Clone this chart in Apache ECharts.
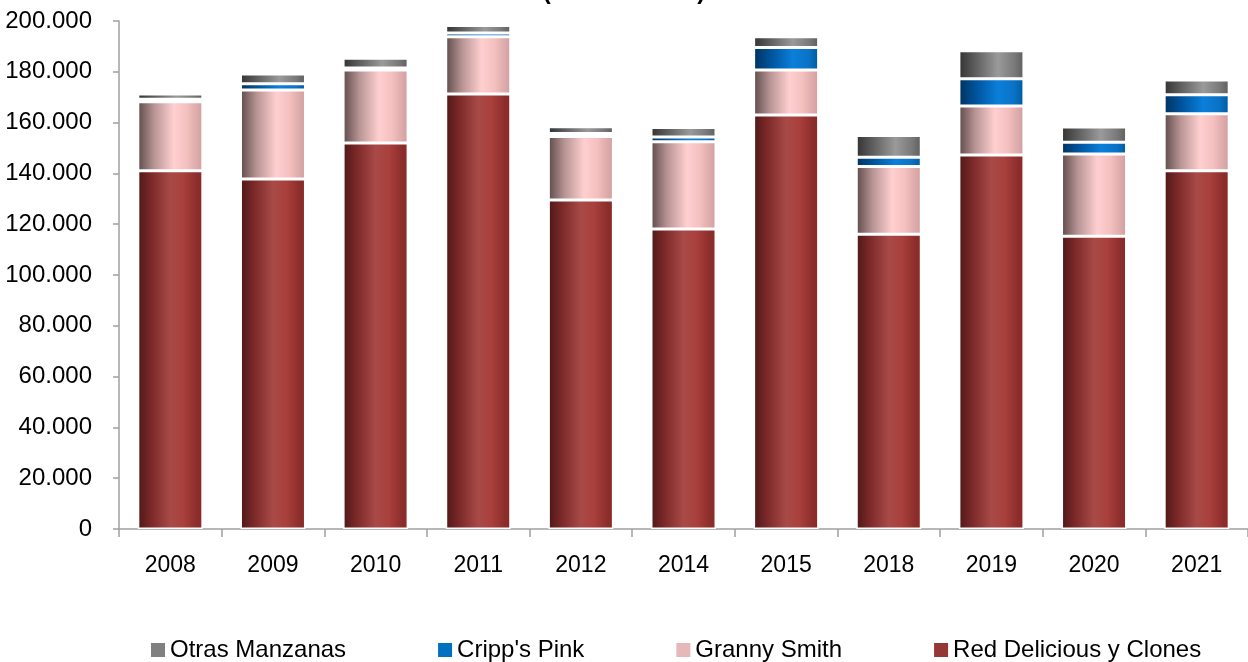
<!DOCTYPE html>
<html>
<head>
<meta charset="utf-8">
<script src="https://cdn.jsdelivr.net/npm/echarts@6/dist/echarts.min.js"></script>
<style>
html,body{margin:0;padding:0;background:#fff;}
#chart{width:1248px;height:662px;}
</style>
</head>
<body>
<div id="chart"></div>
<script>
const years = ['2008','2009','2010','2011','2012','2014','2015','2018','2019','2020','2021'];
const redDelicious = [141000,137800,152000,171300,129500,118100,163000,116000,147200,115300,141000];
const grannySmith = [27200,35000,28700,22500,25000,34400,17700,26700,19300,32300,22500];
const crippsPink = [1000,2500,800,1500,1200,1800,8900,3700,10800,4700,7500];
const otrasManzanas = [2100,3800,3800,2900,2700,3800,4200,8500,11000,6000,5800];
const yTicks = [0,20000,40000,60000,80000,100000,120000,140000,160000,180000,200000];

const FONT = "'Liberation Sans', Arial, sans-serif";
function fmt(v){
  return String(Math.round(v)).replace(/\B(?=(\d{3})+(?!\d))/g, '.');
}
function grad(stops){
  return {type:'linear', x:0, y:0, x2:1, y2:0,
    colorStops: stops.map(s => ({offset:s[0], color:s[1]}))};
}
const redGrad = grad([[0,'#4e1818'],[0.2,'#7a2828'],[0.5,'#a84a47'],[0.7,'#a9403d'],[0.9,'#8e2e2c'],[1,'#852a28']]);
const pinkGrad = grad([[0,'#5e4a4a'],[0.25,'#b89494'],[0.55,'#ffcfcf'],[0.75,'#f4c0c0'],[1,'#cf9e9e']]);
const blueGrad = grad([[0,'#00325f'],[0.3,'#0058a3'],[0.6,'#0a7fda'],[0.85,'#0a72c6'],[1,'#005a9e']]);
const grayGrad = grad([[0,'#333333'],[0.3,'#666666'],[0.6,'#9a9a9a'],[0.85,'#7a7a7a'],[1,'#5e5e5e']]);

function series(name, data, fill){
  return {
    name, type:'bar', stack:'total', data, barWidth:65,
    itemStyle:{color:fill, borderColor:'#ffffff', borderWidth:1.5},
    emphasis:{disabled:true}
  };
}

const chart = echarts.init(document.getElementById('chart'), null, {renderer:'canvas'});
chart.setOption({
  animation:false,
  backgroundColor:'#ffffff',
  title:{
    text:'(en toneladas)', left:'center', top:-25,
    textStyle:{fontFamily:FONT, fontSize:24, fontWeight:'bold', color:'#000'}
  },
  grid:{left:119, top:21, width:1139, bottom:133},
  legend:{
    data:[
      {name:'Otras Manzanas', itemStyle:{color:'#808080', borderWidth:0}},
      {name:"Cripp's Pink", itemStyle:{color:'#0070C0', borderWidth:0}},
      {name:'Granny Smith', itemStyle:{color:'#E6B9B8', borderWidth:0}},
      {name:'Red Delicious y Clones', itemStyle:{color:'#953735', borderWidth:0}}
    ],
    left:146, top:633, itemWidth:14, itemHeight:14, itemGap:92,
    icon:'rect',
    textStyle:{fontFamily:FONT, fontSize:24, color:'#000'}
  },
  xAxis:{
    type:'category', data:years,
    axisLine:{lineStyle:{color:'#a0a0a0', width:1.5}},
    axisTick:{show:true, length:8, lineStyle:{color:'#a0a0a0', width:1.5}},
    axisLabel:{fontFamily:FONT, fontSize:23, color:'#000', margin:25}
  },
  yAxis:{
    type:'value', min:yTicks[0], max:yTicks[yTicks.length-1], interval:yTicks[1]-yTicks[0],
    axisLine:{show:true, lineStyle:{color:'#a0a0a0', width:1.5}},
    axisTick:{show:true, length:6, lineStyle:{color:'#a0a0a0', width:1.5}},
    splitLine:{show:false},
    axisLabel:{fontFamily:FONT, fontSize:24, color:'#000', margin:27, formatter:fmt}
  },
  series:[
    series('Red Delicious y Clones', redDelicious, redGrad),
    series('Granny Smith', grannySmith, pinkGrad),
    series("Cripp's Pink", crippsPink, blueGrad),
    series('Otras Manzanas', otrasManzanas, grayGrad)
  ]
});
</script>
</body>
</html>
